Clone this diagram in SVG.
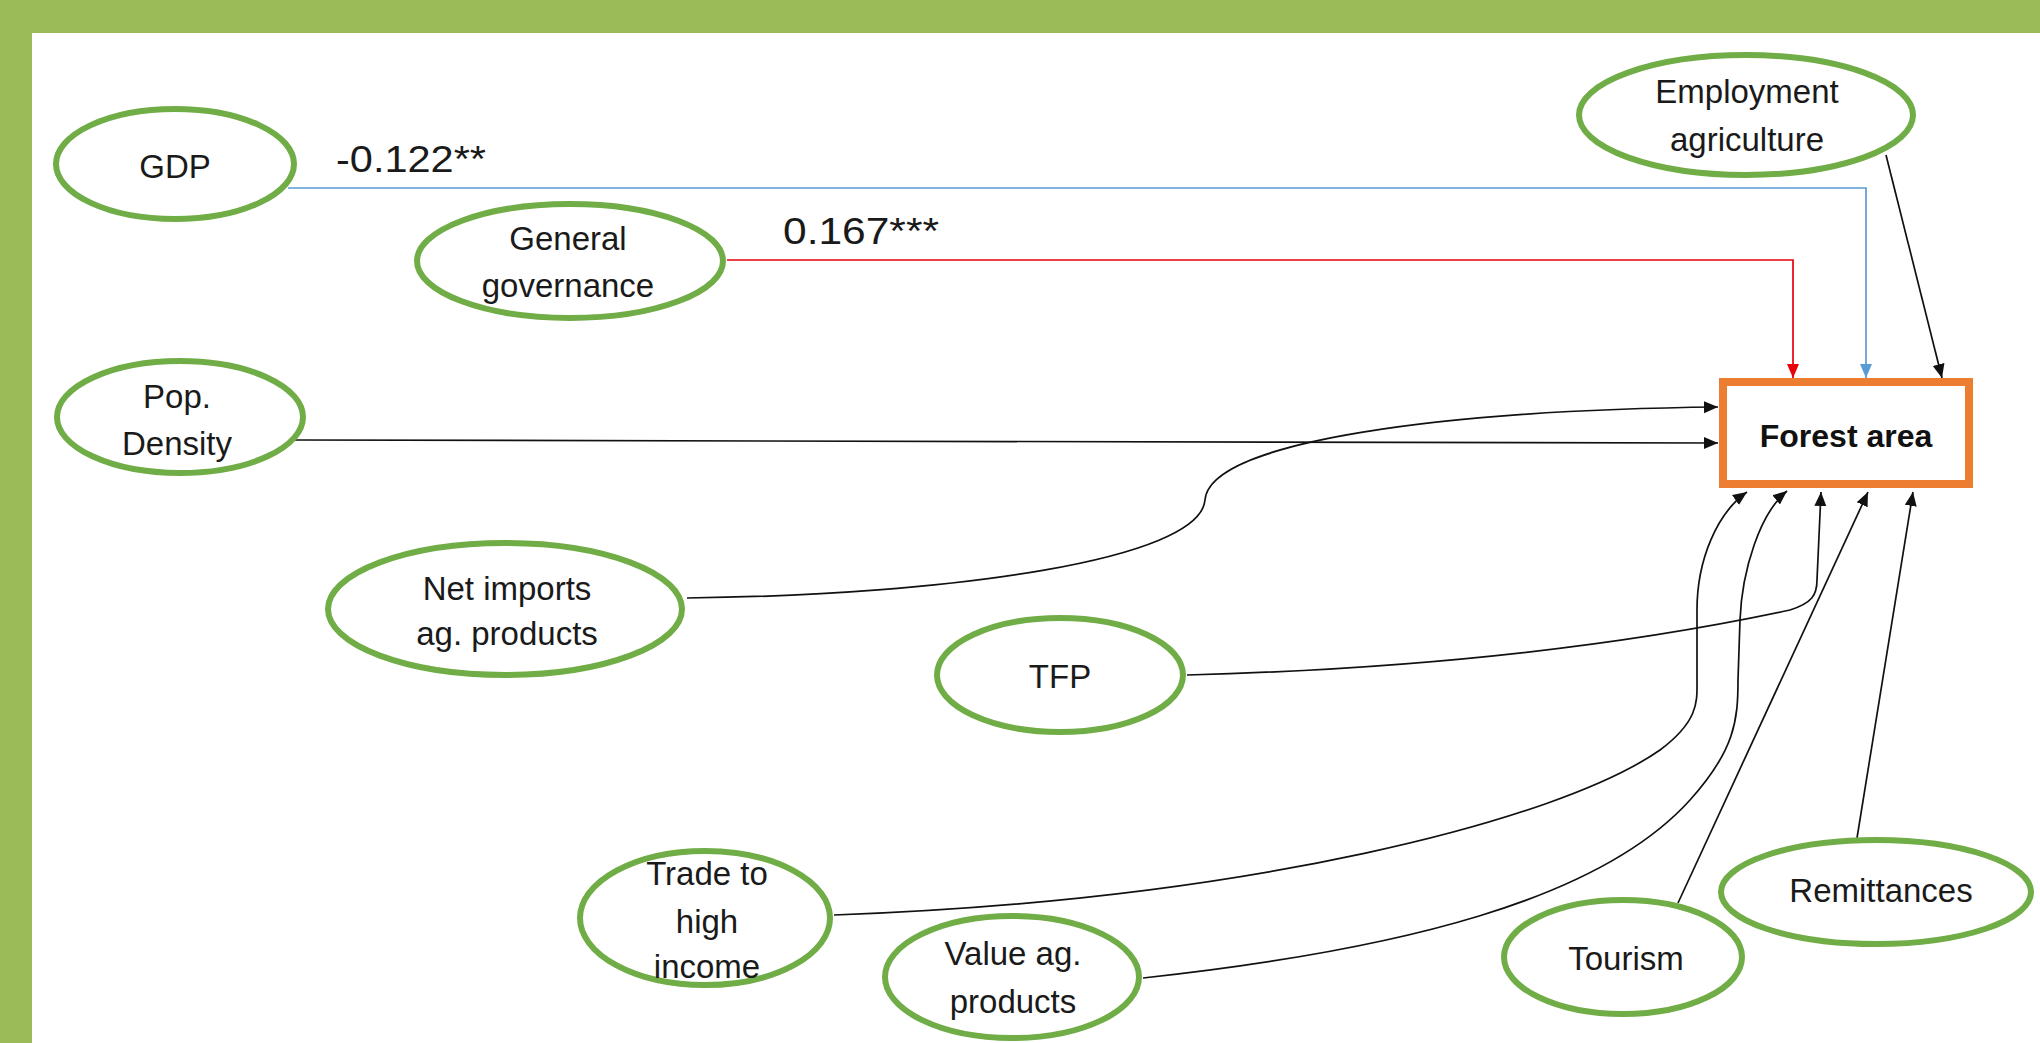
<svg xmlns="http://www.w3.org/2000/svg" width="2040" height="1043" viewBox="0 0 2040 1043">
<defs>
<style>
.band{fill:#9BBB59}
.node ellipse{fill:#fff;stroke:#70AD47;stroke-width:6}
.node text,.lbl{font-family:"Liberation Sans",Arial,sans-serif;font-size:33px;fill:#1a1a1a;text-anchor:middle}
.lbl{font-size:37px;text-anchor:start}
.target rect{fill:#fff;stroke:#ED7D31;stroke-width:8}
.target text{font-family:"Liberation Sans",Arial,sans-serif;font-size:32px;font-weight:bold;fill:#111;text-anchor:middle}
.edges path{fill:none;stroke:#111;stroke-width:1.7}
.edges path.blue{stroke:#5B9BD5}
.edges path.red{stroke:#E8000B}
</style>
<marker id="ab" markerUnits="userSpaceOnUse" viewBox="0 0 14 14" markerWidth="14" markerHeight="14" refX="14" refY="7" orient="auto"><path d="M0,1 L14,7 L0,13 z" fill="#111"/></marker>
<marker id="ablue" markerUnits="userSpaceOnUse" viewBox="0 0 14 14" markerWidth="14" markerHeight="14" refX="14" refY="7" orient="auto"><path d="M0,1 L14,7 L0,13 z" fill="#5B9BD5"/></marker>
<marker id="ared" markerUnits="userSpaceOnUse" viewBox="0 0 14 14" markerWidth="14" markerHeight="14" refX="14" refY="7" orient="auto"><path d="M0,1 L14,7 L0,13 z" fill="#E8000B"/></marker>
</defs>
<rect width="2040" height="1043" fill="#fff"/>
<rect class="band" x="0" y="0" width="2040" height="33"/>
<rect class="band" x="0" y="0" width="32" height="1043"/>

<g id="connectors" class="edges">
<path class="blue" d="M288 188 H1866 V378" marker-end="url(#ablue)"/>
<path class="red" d="M727 260 H1793 V378" marker-end="url(#ared)"/>
<path d="M1886 155 L1942 378" marker-end="url(#ab)"/>
<path d="M292 440 C800 441 1300 443 1718 443" marker-end="url(#ab)"/>
<path d="M687 598 C950 595 1200 560 1205 500 C1210 440 1450 410 1718 407" marker-end="url(#ab)"/>
<path d="M1187 675 C1450 668 1650 640 1790 610 C1812 603 1817 595 1817 580 L1821 492" marker-end="url(#ab)"/>
<path d="M834 915 C1250 900 1560 820 1660 750 C1700 720 1697 700 1697 680 L1697 610 C1697 560 1717 513 1747 492" marker-end="url(#ab)"/>
<path d="M1143 978 C1400 950 1600 900 1690 800 C1735 750 1738 720 1738 680 L1740 620 C1742 570 1760 513 1787 491" marker-end="url(#ab)"/>
<path d="M1678 903 L1868 492" marker-end="url(#ab)"/>
<path d="M1857 838 L1913 492" marker-end="url(#ab)"/>
</g>

<text class="lbl" x="336" y="172" textLength="150" lengthAdjust="spacingAndGlyphs">-0.122**</text>
<text class="lbl" x="783" y="244" textLength="156" lengthAdjust="spacingAndGlyphs">0.167***</text>

<g id="node-gdp" class="node"><ellipse cx="175" cy="164" rx="119" ry="55"/><text x="175" y="178">GDP</text></g>
<g id="node-governance" class="node"><ellipse cx="570" cy="261" rx="153" ry="57"/><text x="568" y="250">General</text><text x="568" y="297">governance</text></g>
<g id="node-employment" class="node"><ellipse cx="1746" cy="115" rx="167" ry="60"/><text x="1747" y="103">Employment</text><text x="1747" y="151">agriculture</text></g>
<g id="node-pop" class="node"><ellipse cx="180" cy="417" rx="123" ry="56"/><text x="177" y="408">Pop.</text><text x="177" y="455">Density</text></g>
<g id="node-netimports" class="node"><ellipse cx="505" cy="609" rx="177" ry="66"/><text x="507" y="600">Net imports</text><text x="507" y="645">ag. products</text></g>
<g id="node-tfp" class="node"><ellipse cx="1060" cy="675" rx="123" ry="57"/><text x="1060" y="688">TFP</text></g>
<g id="node-trade" class="node"><ellipse cx="705" cy="918" rx="125" ry="67"/><text x="707" y="885">Trade to</text><text x="707" y="933">high</text><text x="707" y="978">income</text></g>
<g id="node-value" class="node"><ellipse cx="1012" cy="977" rx="127" ry="61"/><text x="1013" y="965">Value ag.</text><text x="1013" y="1013">products</text></g>
<g id="node-tourism" class="node"><ellipse cx="1623" cy="957" rx="119" ry="57"/><text x="1626" y="970">Tourism</text></g>
<g id="node-remittances" class="node"><ellipse cx="1876" cy="892" rx="155" ry="52"/><text x="1881" y="902">Remittances</text></g>
<g id="node-forest" class="target"><rect x="1723" y="382" width="246" height="102"/><text x="1846" y="447">Forest area</text></g>
</svg>
